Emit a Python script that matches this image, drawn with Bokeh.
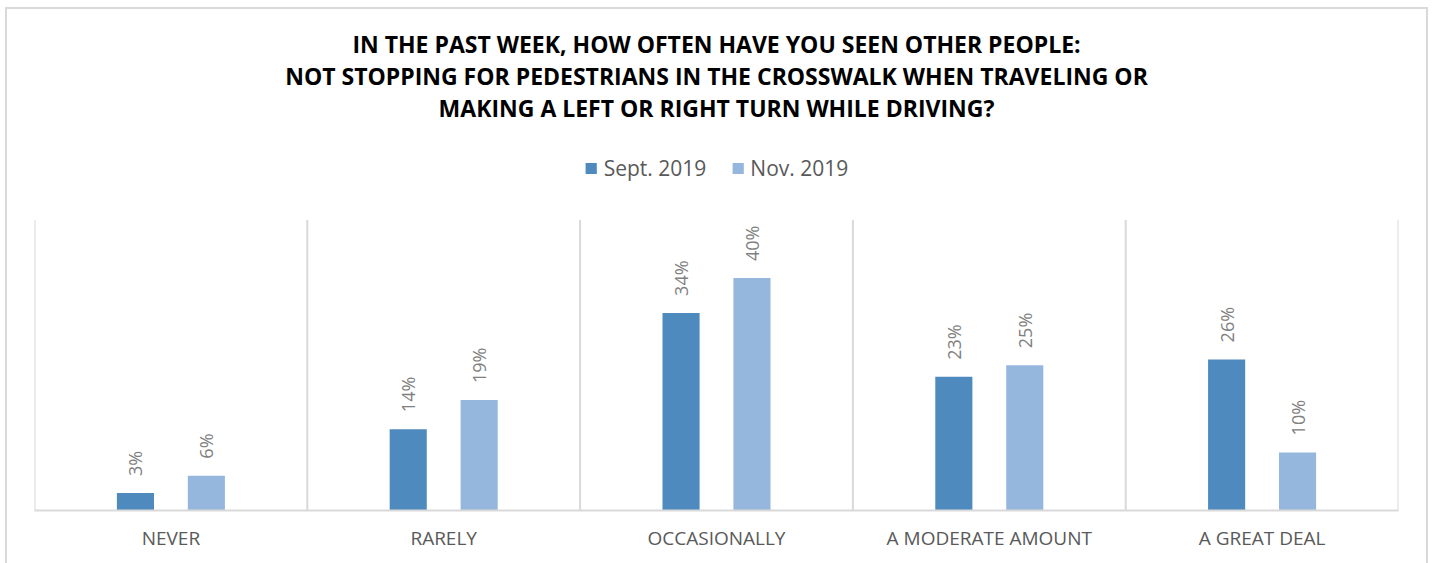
import math
from bokeh.plotting import figure
from bokeh.models import Range1d, Label, Legend, LegendItem, ColumnDataSource
from bokeh.transform import dodge
from bokeh.core.properties import value
from bokeh.embed import file_html
from bokeh.resources import INLINE

# ---- data ----
categories = ["NEVER", "RARELY", "OCCASIONALLY", "A MODERATE AMOUNT", "A GREAT DEAL"]
series_names = ["Sept. 2019", "Nov. 2019"]
sept_2019 = [3, 14, 34, 23, 26]
nov_2019 = [6, 19, 40, 25, 10]
title_lines = [
    "IN THE PAST WEEK, HOW OFTEN HAVE YOU SEEN OTHER PEOPLE:",
    "NOT STOPPING FOR PEDESTRIANS IN THE CROSSWALK WHEN TRAVELING OR",
    "MAKING A LEFT OR RIGHT TURN WHILE DRIVING?",
]
y_axis_max = 50

# ---- styles ----
SEPT_COLOR = "#4E8ABE"
NOV_COLOR = "#95B7DE"
GRID_COLOR = "#D9D9D9"
TEXT_GRAY = "#595959"
LABEL_GRAY = "#808080"
FONT = "Open Sans"

src = ColumnDataSource(dict(
    cat=categories,
    sept=sept_2019,
    nov=nov_2019,
    sept_lbl=[f"{v}%" for v in sept_2019],
    nov_lbl=[f"{v}%" for v in nov_2019],
))

p = figure(
    x_range=categories,
    y_range=Range1d(0, 86.2),
    width=1419, height=554,
    output_backend="svg", toolbar_location=None,
    title=None, y_axis_location=None,
    min_border_left=27, min_border_right=28,
    min_border_top=0, min_border_bottom=53,
)
p.styles = {"outline": "2px solid #D9D9D9", "margin-left": "7px", "margin-top": "9px"}
p.outline_line_color = None
p.xgrid.grid_line_color = None
p.ygrid.grid_line_color = None
p.background_fill_color = "white"
p.border_fill_color = "white"

# category separators (vertical lines between categories)
bounds = list(range(len(categories) + 1))
p.segment(x0=bounds, y0=[0] * len(bounds), x1=bounds, y1=[y_axis_max] * len(bounds),
          line_color=GRID_COLOR, line_width=2)

off = 0.13
bw = 0.136
r1 = p.vbar(x=dodge("cat", -off, range=p.x_range), top="sept", width=bw, source=src,
            fill_color=SEPT_COLOR, line_color=None)
r2 = p.vbar(x=dodge("cat", off, range=p.x_range), top="nov", width=bw, source=src,
            fill_color=NOV_COLOR, line_color=None)

for col, lbl, dx in (("sept", "sept_lbl", -off), ("nov", "nov_lbl", off)):
    p.text(x=dodge("cat", dx, range=p.x_range), y=col, text=lbl, source=src,
           angle=math.pi / 2, text_align="left", text_baseline="middle",
           y_offset=-17, text_font=value(FONT), text_font_size="18px",
           text_color=LABEL_GRAY)

# x axis
ax = p.xaxis[0]
ax.axis_line_color = GRID_COLOR
ax.axis_line_width = 2
ax.major_tick_line_color = None
ax.minor_tick_line_color = None
ax.major_tick_out = 0
ax.major_label_standoff = 14
ax.major_label_text_font = FONT
ax.major_label_text_font_size = "19px"
ax.major_label_text_color = TEXT_GRAY

# title lines
mid = len(categories) / 2
for i, line in enumerate(title_lines):
    p.add_layout(Label(x=mid, y=467 - 32 * i, x_units="data", y_units="screen",
                       text=line, text_align="center", text_baseline="alphabetic",
                       text_font=FONT, text_font_size="23px", text_font_style="bold",
                       text_color="black"))

legend = Legend(
    items=[LegendItem(label=series_names[0], renderers=[r1]),
           LegendItem(label=series_names[1], renderers=[r2])],
    orientation="horizontal", location="top_center", margin=145, padding=0,
    spacing=24, glyph_width=14, glyph_height=14, label_standoff=6,
    label_text_font=FONT, label_text_font_size="21px", label_text_color=TEXT_GRAY,
    border_line_color=None, background_fill_alpha=0,
)
p.add_layout(legend, "center")

open("out.html", "w").write(file_html(p, INLINE))
